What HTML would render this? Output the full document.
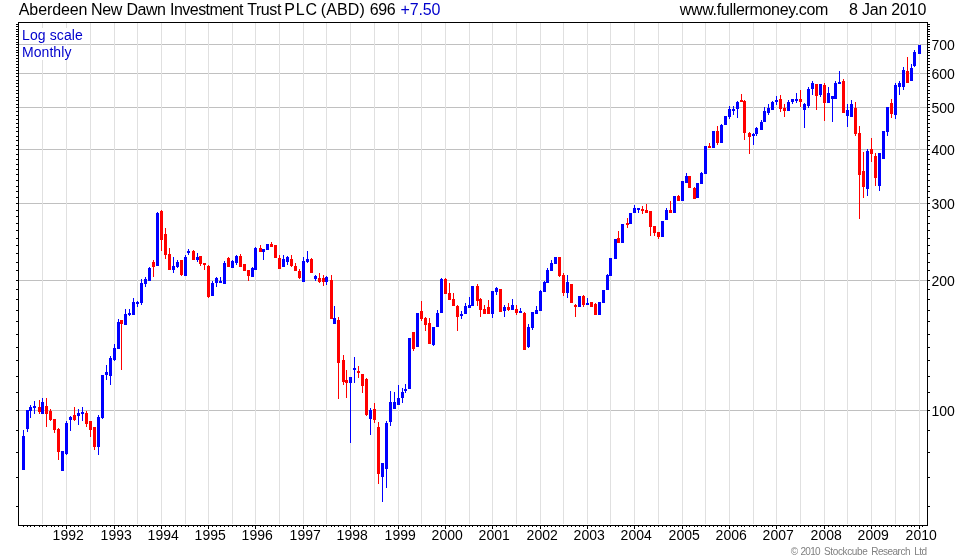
<!DOCTYPE html>
<html lang="en"><head><meta charset="utf-8"><title>Aberdeen New Dawn Investment Trust PLC (ABD)</title>
<style>html,body{margin:0;padding:0;background:#fff}body{width:980px;height:560px;overflow:hidden}svg{display:block}text{font-family:"Liberation Sans",Arial,sans-serif}</style>
</head><body>
<svg width="980" height="560" viewBox="0 0 980 560" shape-rendering="crispEdges">
<rect width="980" height="560" fill="#fff"/>
<path fill="#c0c0c0" d="M19 44h908v1h-908zM19 73h908v1h-908zM19 107h908v1h-908zM19 149h908v1h-908zM19 203h908v1h-908zM19 280h908v1h-908zM19 410h908v1h-908z"/>
<path fill="#e0e0e0" d="M42 23h1v501h-1zM66 23h1v501h-1zM90 23h1v501h-1zM114 23h1v501h-1zM137 23h1v501h-1zM161 23h1v501h-1zM185 23h1v501h-1zM208 23h1v501h-1zM232 23h1v501h-1zM255 23h1v501h-1zM279 23h1v501h-1zM303 23h1v501h-1zM326 23h1v501h-1zM350 23h1v501h-1zM374 23h1v501h-1zM398 23h1v501h-1zM421 23h1v501h-1zM445 23h1v501h-1zM469 23h1v501h-1zM492 23h1v501h-1zM516 23h1v501h-1zM540 23h1v501h-1zM563 23h1v501h-1zM587 23h1v501h-1zM610 23h1v501h-1zM634 23h1v501h-1zM658 23h1v501h-1zM682 23h1v501h-1zM705 23h1v501h-1zM729 23h1v501h-1zM753 23h1v501h-1zM776 23h1v501h-1zM800 23h1v501h-1zM824 23h1v501h-1zM847 23h1v501h-1zM871 23h1v501h-1zM895 23h1v501h-1zM919 23h1v501h-1z"/>
<rect x="21" y="28" width="62" height="16" fill="#fff"/><rect x="21" y="45" width="51" height="15" fill="#fff"/>
<path fill="#0000ff" d="M23 430h1v40h-1zM22 436h3v34h-3zM27 410h1v22h-1zM26 410h3v19h-3zM30 405h1v13h-1zM29 407h3v4h-3zM34 401h1v13h-1zM33 406h3v2h-3zM42 398h1v16h-1zM41 402h3v12h-3zM62 451h1v20h-1zM61 451h3v20h-3zM66 421h1v34h-1zM65 423h3v31h-3zM70 416h1v15h-1zM69 417h3v3h-3zM78 409h1v16h-1zM77 413h3v3h-3zM82 407h1v14h-1zM81 412h3v2h-3zM98 415h1v40h-1zM97 417h3v30h-3zM102 375h1v44h-1zM101 375h3v43h-3zM106 365h1v15h-1zM105 372h3v3h-3zM110 356h1v29h-1zM109 358h3v18h-3zM114 344h1v17h-1zM113 348h3v12h-3zM118 319h1v30h-1zM117 322h3v27h-3zM125 309h1v16h-1zM124 314h3v11h-3zM129 309h1v7h-1zM128 313h3v2h-3zM133 298h1v17h-1zM132 302h3v13h-3zM137 301h1v6h-1zM136 302h3v2h-3zM141 279h1v26h-1zM140 283h3v20h-3zM145 277h1v10h-1zM144 279h3v5h-3zM149 267h1v14h-1zM148 268h3v13h-3zM157 212h1v54h-1zM156 213h3v53h-3zM173 257h1v16h-1zM172 266h3v4h-3zM177 260h1v8h-1zM176 262h3v5h-3zM185 255h1v21h-1zM184 257h3v19h-3zM188 249h1v6h-1zM187 251h3v2h-3zM197 253h1v9h-1zM196 257h3v3h-3zM212 281h1v15h-1zM211 283h3v13h-3zM216 277h1v10h-1zM215 278h3v5h-3zM220 277h1v6h-1zM219 281h3v2h-3zM224 261h1v23h-1zM223 263h3v21h-3zM232 260h1v8h-1zM231 261h3v7h-3zM236 255h1v10h-1zM235 256h3v7h-3zM252 267h1v10h-1zM251 268h3v9h-3zM255 247h1v23h-1zM254 248h3v22h-3zM263 249h1v11h-1zM262 249h3v3h-3zM267 244h1v6h-1zM266 244h3v6h-3zM283 255h1v12h-1zM282 259h3v8h-3zM287 256h1v9h-1zM286 257h3v5h-3zM303 257h1v25h-1zM302 261h3v21h-3zM307 251h1v12h-1zM306 259h3v3h-3zM315 275h1v6h-1zM314 276h3v3h-3zM326 276h1v9h-1zM325 277h3v5h-3zM334 306h1v18h-1zM333 318h3v6h-3zM350 377h1v66h-1zM349 377h3v6h-3zM354 357h1v26h-1zM353 368h3v2h-3zM370 408h1v27h-1zM369 410h3v9h-3zM382 463h1v39h-1zM381 463h3v14h-3zM386 421h1v67h-1zM385 423h3v46h-3zM390 391h1v35h-1zM389 402h3v20h-3zM394 392h1v17h-1zM393 402h3v7h-3zM398 385h1v20h-1zM397 398h3v7h-3zM402 388h1v15h-1zM401 392h3v6h-3zM405 384h1v9h-1zM404 389h3v2h-3zM409 338h1v51h-1zM408 338h3v51h-3zM417 313h1v34h-1zM416 313h3v34h-3zM433 327h1v19h-1zM432 327h3v18h-3zM437 310h1v17h-1zM436 313h3v14h-3zM441 278h1v35h-1zM440 279h3v34h-3zM461 311h1v8h-1zM460 314h3v2h-3zM465 303h1v11h-1zM464 306h3v8h-3zM469 297h1v11h-1zM468 305h3v3h-3zM472 286h1v20h-1zM471 286h3v20h-3zM492 291h1v27h-1zM491 291h3v23h-3zM496 287h1v8h-1zM495 288h3v4h-3zM504 305h1v12h-1zM503 307h3v4h-3zM512 299h1v11h-1zM511 305h3v5h-3zM520 308h1v5h-1zM519 311h3v2h-3zM528 324h1v24h-1zM527 327h3v20h-3zM532 312h1v18h-1zM531 312h3v16h-3zM536 306h1v8h-1zM535 310h3v4h-3zM540 290h1v21h-1zM539 291h3v20h-3zM544 281h1v11h-1zM543 282h3v10h-3zM547 268h1v15h-1zM546 270h3v13h-3zM551 260h1v11h-1zM550 263h3v8h-3zM555 257h1v7h-1zM554 257h3v7h-3zM567 275h1v23h-1zM566 282h3v11h-3zM579 296h1v11h-1zM578 296h3v11h-3zM587 298h1v7h-1zM586 303h3v2h-3zM599 302h1v13h-1zM598 302h3v13h-3zM603 290h1v13h-1zM602 290h3v13h-3zM607 274h1v16h-1zM606 275h3v15h-3zM610 258h1v18h-1zM609 258h3v18h-3zM615 239h1v20h-1zM614 239h3v20h-3zM622 224h1v19h-1zM621 224h3v19h-3zM630 213h1v11h-1zM629 213h3v11h-3zM634 205h1v8h-1zM633 208h3v5h-3zM638 208h1v5h-1zM637 208h3v2h-3zM662 221h1v16h-1zM661 221h3v16h-3zM666 208h1v12h-1zM665 210h3v10h-3zM674 196h1v17h-1zM673 196h3v17h-3zM682 181h1v20h-1zM681 181h3v20h-3zM686 173h1v10h-1zM685 176h3v7h-3zM697 183h1v15h-1zM696 183h3v15h-3zM701 172h1v12h-1zM700 173h3v11h-3zM705 146h1v28h-1zM704 146h3v28h-3zM713 131h1v17h-1zM712 131h3v17h-3zM721 124h1v19h-1zM720 125h3v18h-3zM725 116h1v9h-1zM724 116h3v9h-3zM729 106h1v13h-1zM728 109h3v8h-3zM733 106h1v9h-1zM732 109h3v2h-3zM737 101h1v17h-1zM736 102h3v7h-3zM753 133h1v12h-1zM752 134h3v2h-3zM756 127h1v9h-1zM755 128h3v6h-3zM761 120h1v10h-1zM760 122h3v8h-3zM764 107h1v15h-1zM763 111h3v11h-3zM768 104h1v11h-1zM767 108h3v5h-3zM772 101h1v9h-1zM771 102h3v8h-3zM776 96h1v9h-1zM775 100h3v2h-3zM788 100h1v11h-1zM787 102h3v9h-3zM792 99h1v5h-1zM791 99h3v3h-3zM796 93h1v10h-1zM795 99h3v2h-3zM804 103h1v25h-1zM803 104h3v6h-3zM808 87h1v21h-1zM807 89h3v17h-3zM812 81h1v14h-1zM811 83h3v6h-3zM820 84h1v13h-1zM819 84h3v11h-3zM828 87h1v16h-1zM827 93h3v10h-3zM832 96h1v26h-1zM831 96h3v3h-3zM835 81h1v18h-1zM834 83h3v16h-3zM839 71h1v13h-1zM838 82h3v2h-3zM847 104h1v23h-1zM846 110h3v6h-3zM851 100h1v17h-1zM850 104h3v13h-3zM867 149h1v47h-1zM866 151h3v38h-3zM879 153h1v38h-1zM878 153h3v33h-3zM883 131h1v28h-1zM882 131h3v28h-3zM887 107h1v29h-1zM886 107h3v25h-3zM895 83h1v36h-1zM894 85h3v30h-3zM899 81h1v14h-1zM898 83h3v4h-3zM903 67h1v23h-1zM902 70h3v17h-3zM911 64h1v17h-1zM910 68h3v13h-3zM914 50h1v17h-1zM913 52h3v14h-3zM919 45h1v9h-1zM918 45h3v9h-3z"/>
<path fill="#ff0000" d="M39 400h1v14h-1zM38 407h3v5h-3zM46 398h1v29h-1zM45 406h3v8h-3zM50 409h1v12h-1zM49 411h3v9h-3zM54 419h1v14h-1zM53 419h3v11h-3zM58 428h1v32h-1zM57 429h3v23h-3zM74 407h1v14h-1zM73 415h3v5h-3zM86 411h1v16h-1zM85 413h3v11h-3zM90 421h1v16h-1zM89 421h3v9h-3zM94 427h1v23h-1zM93 427h3v20h-3zM121 320h1v50h-1zM120 320h3v4h-3zM153 260h1v17h-1zM152 262h3v5h-3zM161 210h1v41h-1zM160 211h3v29h-3zM165 228h1v31h-1zM164 234h3v21h-3zM169 248h1v22h-1zM168 254h3v16h-3zM181 260h1v16h-1zM180 260h3v15h-3zM193 250h1v10h-1zM192 251h3v9h-3zM200 256h1v10h-1zM199 256h3v8h-3zM204 263h1v7h-1zM203 263h3v2h-3zM208 265h1v33h-1zM207 266h3v31h-3zM228 257h1v10h-1zM227 258h3v9h-3zM240 254h1v13h-1zM239 256h3v11h-3zM244 264h1v7h-1zM243 264h3v7h-3zM248 270h1v11h-1zM247 270h3v6h-3zM260 245h1v7h-1zM259 248h3v4h-3zM271 242h1v5h-1zM270 244h3v3h-3zM275 245h1v13h-1zM274 245h3v13h-3zM279 255h1v14h-1zM278 258h3v11h-3zM291 255h1v12h-1zM290 259h3v7h-3zM295 263h1v8h-1zM294 266h3v5h-3zM299 269h1v10h-1zM298 271h3v7h-3zM311 258h1v15h-1zM310 259h3v14h-3zM319 273h1v10h-1zM318 278h3v4h-3zM323 275h1v11h-1zM322 278h3v4h-3zM331 275h1v44h-1zM330 280h3v39h-3zM338 317h1v82h-1zM337 320h3v43h-3zM343 355h1v30h-1zM342 360h3v22h-3zM346 370h1v28h-1zM345 380h3v3h-3zM358 366h1v12h-1zM357 371h3v2h-3zM362 374h1v19h-1zM361 374h3v12h-3zM366 378h1v38h-1zM365 379h3v36h-3zM374 403h1v20h-1zM373 409h3v11h-3zM378 422h1v62h-1zM377 427h3v47h-3zM413 332h1v19h-1zM412 332h3v17h-3zM421 301h1v20h-1zM420 311h3v8h-3zM425 317h1v14h-1zM424 318h3v7h-3zM429 318h1v26h-1zM428 323h3v21h-3zM445 278h1v16h-1zM444 279h3v15h-3zM449 283h1v17h-1zM448 293h3v7h-3zM453 293h1v13h-1zM452 299h3v7h-3zM457 305h1v26h-1zM456 306h3v11h-3zM477 284h1v22h-1zM476 286h3v15h-3zM480 298h1v19h-1zM479 299h3v11h-3zM484 305h1v9h-1zM483 309h3v5h-3zM488 300h1v14h-1zM487 307h3v7h-3zM500 289h1v23h-1zM499 289h3v23h-3zM508 303h1v8h-1zM507 307h3v3h-3zM516 305h1v10h-1zM515 309h3v4h-3zM524 312h1v38h-1zM523 313h3v37h-3zM559 257h1v20h-1zM558 257h3v19h-3zM563 273h1v23h-1zM562 275h3v18h-3zM571 284h1v19h-1zM570 284h3v19h-3zM575 304h1v13h-1zM574 305h3v2h-3zM583 295h1v12h-1zM582 296h3v9h-3zM591 302h1v5h-1zM590 302h3v5h-3zM595 303h1v12h-1zM594 304h3v11h-3zM618 231h1v12h-1zM617 238h3v5h-3zM627 218h1v10h-1zM626 223h3v2h-3zM642 206h1v8h-1zM641 209h3v2h-3zM646 204h1v9h-1zM645 210h3v3h-3zM650 211h1v25h-1zM649 211h3v16h-3zM654 226h1v10h-1zM653 226h3v7h-3zM658 232h1v7h-1zM657 232h3v5h-3zM670 201h1v12h-1zM669 210h3v3h-3zM678 195h1v6h-1zM677 196h3v5h-3zM689 176h1v12h-1zM688 176h3v12h-3zM694 187h1v12h-1zM693 188h3v11h-3zM709 143h1v5h-1zM708 146h3v2h-3zM717 126h1v19h-1zM716 131h3v12h-3zM741 94h1v8h-1zM740 100h3v2h-3zM744 100h1v40h-1zM743 101h3v32h-3zM749 132h1v22h-1zM748 133h3v4h-3zM780 95h1v17h-1zM779 99h3v10h-3zM784 104h1v13h-1zM783 108h3v3h-3zM800 90h1v17h-1zM799 99h3v3h-3zM816 84h1v26h-1zM815 84h3v12h-3zM824 83h1v38h-1zM823 85h3v18h-3zM843 79h1v34h-1zM842 81h3v32h-3zM855 102h1v34h-1zM854 108h3v26h-3zM859 126h1v93h-1zM858 133h3v42h-3zM863 152h1v46h-1zM862 171h3v16h-3zM871 138h1v24h-1zM870 149h3v5h-3zM875 153h1v33h-1zM874 156h3v22h-3zM891 99h1v19h-1zM890 103h3v11h-3zM907 57h1v26h-1zM906 71h3v12h-3z"/>
<path fill="#000" fill-rule="evenodd" d="M18 22h910v504h-910zM19 23v502h908v-502z"/>
<path fill="#000" d="M16 506h2v1h-2zM928 506h2v1h-2zM16 477h2v1h-2zM928 477h2v1h-2zM16 452h2v1h-2zM928 452h2v1h-2zM16 430h2v1h-2zM928 430h2v1h-2zM16 410h2v1h-2zM928 410h2v1h-2zM16 392h2v1h-2zM928 392h2v1h-2zM16 376h2v1h-2zM928 376h2v1h-2zM16 360h2v1h-2zM928 360h2v1h-2zM16 347h2v1h-2zM928 347h2v1h-2zM16 334h2v1h-2zM928 334h2v1h-2zM16 321h2v1h-2zM928 321h2v1h-2zM16 310h2v1h-2zM928 310h2v1h-2zM16 299h2v1h-2zM928 299h2v1h-2zM16 289h2v1h-2zM928 289h2v1h-2zM16 280h2v1h-2zM928 280h2v1h-2zM16 270h2v1h-2zM928 270h2v1h-2zM16 262h2v1h-2zM928 262h2v1h-2zM16 253h2v1h-2zM928 253h2v1h-2zM16 245h2v1h-2zM928 245h2v1h-2zM16 238h2v1h-2zM928 238h2v1h-2zM16 230h2v1h-2zM928 230h2v1h-2zM16 223h2v1h-2zM928 223h2v1h-2zM16 216h2v1h-2zM928 216h2v1h-2zM16 210h2v1h-2zM928 210h2v1h-2zM16 203h2v1h-2zM928 203h2v1h-2zM16 197h2v1h-2zM928 197h2v1h-2zM16 191h2v1h-2zM928 191h2v1h-2zM16 186h2v1h-2zM928 186h2v1h-2zM16 180h2v1h-2zM928 180h2v1h-2zM16 174h2v1h-2zM928 174h2v1h-2zM16 169h2v1h-2zM928 169h2v1h-2zM16 164h2v1h-2zM928 164h2v1h-2zM16 159h2v1h-2zM928 159h2v1h-2zM16 154h2v1h-2zM928 154h2v1h-2zM16 149h2v1h-2zM928 149h2v1h-2zM16 145h2v1h-2zM928 145h2v1h-2zM16 140h2v1h-2zM928 140h2v1h-2zM16 136h2v1h-2zM928 136h2v1h-2zM16 131h2v1h-2zM928 131h2v1h-2zM16 127h2v1h-2zM928 127h2v1h-2zM16 123h2v1h-2zM928 123h2v1h-2zM16 119h2v1h-2zM928 119h2v1h-2zM16 115h2v1h-2zM928 115h2v1h-2zM16 111h2v1h-2zM928 111h2v1h-2zM16 107h2v1h-2zM928 107h2v1h-2zM16 104h2v1h-2zM928 104h2v1h-2zM16 100h2v1h-2zM928 100h2v1h-2zM16 97h2v1h-2zM928 97h2v1h-2zM16 93h2v1h-2zM928 93h2v1h-2zM16 90h2v1h-2zM928 90h2v1h-2zM16 86h2v1h-2zM928 86h2v1h-2zM16 83h2v1h-2zM928 83h2v1h-2zM16 80h2v1h-2zM928 80h2v1h-2zM16 76h2v1h-2zM928 76h2v1h-2zM16 73h2v1h-2zM928 73h2v1h-2zM16 70h2v1h-2zM928 70h2v1h-2zM16 67h2v1h-2zM928 67h2v1h-2zM16 64h2v1h-2zM928 64h2v1h-2zM16 61h2v1h-2zM928 61h2v1h-2zM16 58h2v1h-2zM928 58h2v1h-2zM16 55h2v1h-2zM928 55h2v1h-2zM16 52h2v1h-2zM928 52h2v1h-2zM16 50h2v1h-2zM928 50h2v1h-2zM16 47h2v1h-2zM928 47h2v1h-2zM16 44h2v1h-2zM928 44h2v1h-2zM16 42h2v1h-2zM928 42h2v1h-2zM16 39h2v1h-2zM928 39h2v1h-2zM16 36h2v1h-2zM928 36h2v1h-2zM16 34h2v1h-2zM928 34h2v1h-2zM16 31h2v1h-2zM928 31h2v1h-2zM16 29h2v1h-2zM928 29h2v1h-2zM16 26h2v1h-2zM928 26h2v1h-2zM16 24h2v1h-2zM928 24h2v1h-2zM23 526h1v1h-1zM27 526h1v1h-1zM30 526h1v1h-1zM34 526h1v1h-1zM39 526h1v1h-1zM42 526h1v1h-1zM46 526h1v1h-1zM51 526h1v1h-1zM54 526h1v1h-1zM58 526h1v1h-1zM62 526h1v1h-1zM66 526h1v1h-1zM70 526h1v1h-1zM74 526h1v1h-1zM78 526h1v1h-1zM82 526h1v1h-1zM86 526h1v1h-1zM90 526h1v1h-1zM94 526h1v1h-1zM98 526h1v1h-1zM102 526h1v1h-1zM106 526h1v1h-1zM110 526h1v1h-1zM114 526h1v1h-1zM118 526h1v1h-1zM121 526h1v1h-1zM125 526h1v1h-1zM129 526h1v1h-1zM133 526h1v1h-1zM137 526h1v1h-1zM141 526h1v1h-1zM145 526h1v1h-1zM149 526h1v1h-1zM153 526h1v1h-1zM157 526h1v1h-1zM161 526h1v1h-1zM165 526h1v1h-1zM169 526h1v1h-1zM173 526h1v1h-1zM177 526h1v1h-1zM181 526h1v1h-1zM185 526h1v1h-1zM188 526h1v1h-1zM193 526h1v1h-1zM197 526h1v1h-1zM200 526h1v1h-1zM204 526h1v1h-1zM208 526h1v1h-1zM212 526h1v1h-1zM216 526h1v1h-1zM220 526h1v1h-1zM224 526h1v1h-1zM228 526h1v1h-1zM232 526h1v1h-1zM236 526h1v1h-1zM240 526h1v1h-1zM244 526h1v1h-1zM248 526h1v1h-1zM252 526h1v1h-1zM255 526h1v1h-1zM260 526h1v1h-1zM263 526h1v1h-1zM267 526h1v1h-1zM271 526h1v1h-1zM275 526h1v1h-1zM279 526h1v1h-1zM283 526h1v1h-1zM287 526h1v1h-1zM291 526h1v1h-1zM295 526h1v1h-1zM299 526h1v1h-1zM303 526h1v1h-1zM307 526h1v1h-1zM311 526h1v1h-1zM315 526h1v1h-1zM319 526h1v1h-1zM323 526h1v1h-1zM326 526h1v1h-1zM331 526h1v1h-1zM334 526h1v1h-1zM338 526h1v1h-1zM343 526h1v1h-1zM346 526h1v1h-1zM350 526h1v1h-1zM354 526h1v1h-1zM358 526h1v1h-1zM362 526h1v1h-1zM366 526h1v1h-1zM370 526h1v1h-1zM374 526h1v1h-1zM378 526h1v1h-1zM382 526h1v1h-1zM386 526h1v1h-1zM390 526h1v1h-1zM394 526h1v1h-1zM398 526h1v1h-1zM402 526h1v1h-1zM405 526h1v1h-1zM409 526h1v1h-1zM413 526h1v1h-1zM417 526h1v1h-1zM421 526h1v1h-1zM425 526h1v1h-1zM429 526h1v1h-1zM433 526h1v1h-1zM437 526h1v1h-1zM441 526h1v1h-1zM445 526h1v1h-1zM449 526h1v1h-1zM453 526h1v1h-1zM457 526h1v1h-1zM461 526h1v1h-1zM465 526h1v1h-1zM469 526h1v1h-1zM472 526h1v1h-1zM477 526h1v1h-1zM480 526h1v1h-1zM484 526h1v1h-1zM488 526h1v1h-1zM492 526h1v1h-1zM496 526h1v1h-1zM500 526h1v1h-1zM504 526h1v1h-1zM508 526h1v1h-1zM512 526h1v1h-1zM516 526h1v1h-1zM520 526h1v1h-1zM524 526h1v1h-1zM528 526h1v1h-1zM532 526h1v1h-1zM536 526h1v1h-1zM540 526h1v1h-1zM544 526h1v1h-1zM547 526h1v1h-1zM551 526h1v1h-1zM555 526h1v1h-1zM559 526h1v1h-1zM563 526h1v1h-1zM567 526h1v1h-1zM571 526h1v1h-1zM575 526h1v1h-1zM579 526h1v1h-1zM583 526h1v1h-1zM587 526h1v1h-1zM591 526h1v1h-1zM595 526h1v1h-1zM599 526h1v1h-1zM603 526h1v1h-1zM607 526h1v1h-1zM610 526h1v1h-1zM615 526h1v1h-1zM618 526h1v1h-1zM622 526h1v1h-1zM627 526h1v1h-1zM630 526h1v1h-1zM634 526h1v1h-1zM638 526h1v1h-1zM642 526h1v1h-1zM646 526h1v1h-1zM650 526h1v1h-1zM654 526h1v1h-1zM658 526h1v1h-1zM662 526h1v1h-1zM666 526h1v1h-1zM670 526h1v1h-1zM674 526h1v1h-1zM678 526h1v1h-1zM682 526h1v1h-1zM686 526h1v1h-1zM689 526h1v1h-1zM694 526h1v1h-1zM697 526h1v1h-1zM701 526h1v1h-1zM705 526h1v1h-1zM709 526h1v1h-1zM713 526h1v1h-1zM717 526h1v1h-1zM721 526h1v1h-1zM725 526h1v1h-1zM729 526h1v1h-1zM733 526h1v1h-1zM737 526h1v1h-1zM741 526h1v1h-1zM744 526h1v1h-1zM749 526h1v1h-1zM753 526h1v1h-1zM756 526h1v1h-1zM761 526h1v1h-1zM764 526h1v1h-1zM768 526h1v1h-1zM772 526h1v1h-1zM776 526h1v1h-1zM780 526h1v1h-1zM784 526h1v1h-1zM788 526h1v1h-1zM792 526h1v1h-1zM796 526h1v1h-1zM800 526h1v1h-1zM804 526h1v1h-1zM808 526h1v1h-1zM812 526h1v1h-1zM816 526h1v1h-1zM820 526h1v1h-1zM824 526h1v1h-1zM828 526h1v1h-1zM832 526h1v1h-1zM835 526h1v1h-1zM839 526h1v1h-1zM843 526h1v1h-1zM847 526h1v1h-1zM851 526h1v1h-1zM855 526h1v1h-1zM859 526h1v1h-1zM863 526h1v1h-1zM867 526h1v1h-1zM871 526h1v1h-1zM875 526h1v1h-1zM879 526h1v1h-1zM883 526h1v1h-1zM887 526h1v1h-1zM891 526h1v1h-1zM895 526h1v1h-1zM899 526h1v1h-1zM903 526h1v1h-1zM907 526h1v1h-1zM911 526h1v1h-1zM914 526h1v1h-1zM919 526h1v1h-1zM66 526h1v3h-1zM114 526h1v3h-1zM161 526h1v3h-1zM208 526h1v3h-1zM255 526h1v3h-1zM303 526h1v3h-1zM350 526h1v3h-1zM398 526h1v3h-1zM445 526h1v3h-1zM492 526h1v3h-1zM540 526h1v3h-1zM587 526h1v3h-1zM634 526h1v3h-1zM682 526h1v3h-1zM729 526h1v3h-1zM776 526h1v3h-1zM824 526h1v3h-1zM871 526h1v3h-1zM919 526h1v3h-1zM922 526h1v1h-1z"/>
<g shape-rendering="auto" text-rendering="optimizeLegibility">
<text x="18.80" y="15" font-size="16" fill="#000" textLength="68.64" lengthAdjust="spacing">Aberdeen</text>
<text x="91.00" y="15" font-size="16" fill="#000" textLength="31.23" lengthAdjust="spacing">New</text>
<text x="126.50" y="15" font-size="16" fill="#000" textLength="39.34" lengthAdjust="spacing">Dawn</text>
<text x="170.00" y="15" font-size="16" fill="#000" textLength="73.51" lengthAdjust="spacing">Investment</text>
<text x="247.15" y="15" font-size="16" fill="#000" textLength="34.27" lengthAdjust="spacing">Trust</text>
<text x="284.28" y="15" font-size="16" fill="#000" textLength="32.74" lengthAdjust="spacing">PLC</text>
<text x="320.72" y="15" font-size="16" fill="#000" textLength="44.04" lengthAdjust="spacing">(ABD)</text>
<text x="369.72" y="15" font-size="16" fill="#000" textLength="25.92" lengthAdjust="spacing">696</text>
<text x="400.58" y="15" font-size="16" fill="#0000cc" textLength="39.72" lengthAdjust="spacing">+7.50</text>
<text x="679.80" y="15" font-size="16" fill="#000" textLength="148.61" lengthAdjust="spacing">www.fullermoney.com</text>
<text x="849.00" y="15" font-size="16" fill="#000" textLength="77.33" lengthAdjust="spacing">8 Jan 2010</text>
<text x="22" y="40" font-size="14" fill="#0000cc" textLength="60.8" lengthAdjust="spacing">Log scale</text>
<text x="22" y="57" font-size="14" fill="#0000cc" textLength="49.4" lengthAdjust="spacing">Monthly</text>
<text x="931.4" y="50" font-size="14" fill="#000">700</text>
<text x="931.4" y="79" font-size="14" fill="#000">600</text>
<text x="931.4" y="113" font-size="14" fill="#000">500</text>
<text x="931.4" y="155" font-size="14" fill="#000">400</text>
<text x="931.4" y="209" font-size="14" fill="#000">300</text>
<text x="931.4" y="286" font-size="14" fill="#000">200</text>
<text x="931.4" y="416" font-size="14" fill="#000">100</text>
<text x="68.2" y="540" font-size="14" fill="#000" text-anchor="middle">1992</text>
<text x="116.2" y="540" font-size="14" fill="#000" text-anchor="middle">1993</text>
<text x="163.2" y="540" font-size="14" fill="#000" text-anchor="middle">1994</text>
<text x="210.2" y="540" font-size="14" fill="#000" text-anchor="middle">1995</text>
<text x="257.2" y="540" font-size="14" fill="#000" text-anchor="middle">1996</text>
<text x="305.2" y="540" font-size="14" fill="#000" text-anchor="middle">1997</text>
<text x="352.2" y="540" font-size="14" fill="#000" text-anchor="middle">1998</text>
<text x="400.2" y="540" font-size="14" fill="#000" text-anchor="middle">1999</text>
<text x="447.2" y="540" font-size="14" fill="#000" text-anchor="middle">2000</text>
<text x="494.2" y="540" font-size="14" fill="#000" text-anchor="middle">2001</text>
<text x="542.2" y="540" font-size="14" fill="#000" text-anchor="middle">2002</text>
<text x="589.2" y="540" font-size="14" fill="#000" text-anchor="middle">2003</text>
<text x="636.2" y="540" font-size="14" fill="#000" text-anchor="middle">2004</text>
<text x="684.2" y="540" font-size="14" fill="#000" text-anchor="middle">2005</text>
<text x="731.2" y="540" font-size="14" fill="#000" text-anchor="middle">2006</text>
<text x="778.2" y="540" font-size="14" fill="#000" text-anchor="middle">2007</text>
<text x="826.2" y="540" font-size="14" fill="#000" text-anchor="middle">2008</text>
<text x="873.2" y="540" font-size="14" fill="#000" text-anchor="middle">2009</text>
<text x="921.2" y="540" font-size="14" fill="#000" text-anchor="middle">2010</text>
<text x="790.65" y="555" font-size="10" fill="#808080" textLength="7.39" lengthAdjust="spacing">©</text>
<text x="800.50" y="555" font-size="10" fill="#808080" textLength="20.04" lengthAdjust="spacing">2010</text>
<text x="824.05" y="555" font-size="10" fill="#808080" textLength="43.64" lengthAdjust="spacing">Stockcube</text>
<text x="871.20" y="555" font-size="10" fill="#808080" textLength="39.27" lengthAdjust="spacing">Research</text>
<text x="914.20" y="555" font-size="10" fill="#808080" textLength="12.90" lengthAdjust="spacing">Ltd</text>
</g>
</svg></body></html>
